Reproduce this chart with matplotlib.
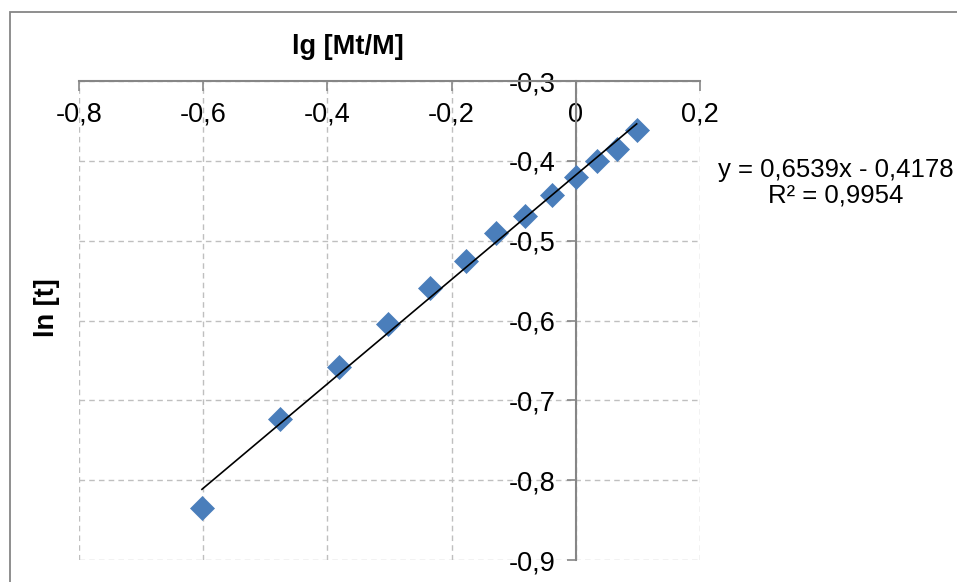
import numpy as np
import matplotlib
matplotlib.use("Agg")
import matplotlib.pyplot as plt
from matplotlib.patches import Rectangle

# Data
lg_mt_m = [-0.602, -0.477, -0.382, -0.302, -0.235, -0.177, -0.128, -0.082, -0.039, 0.0, 0.034, 0.066, 0.098]
ln_t = [-0.835, -0.723, -0.658, -0.604, -0.5595, -0.525, -0.4904, -0.4687, -0.4429, -0.4208, -0.400, -0.3854, -0.3613]

slope = 0.6539
intercept = -0.4178
r2 = 0.9954

x_ticks = [-0.8, -0.6, -0.4, -0.2, 0.0, 0.2]
x_tick_labels = ["-0,8", "-0,6", "-0,4", "-0,2", "0", "0,2"]
y_ticks = [-0.9, -0.8, -0.7, -0.6, -0.5, -0.4, -0.3]
y_tick_labels = ["-0,9", "-0,8", "-0,7", "-0,6", "-0,5", "-0,4", "-0,3"]

x_title = "lg [Mt/M]"
y_title = "ln [t]"

plt.rcParams['font.family'] = ['Liberation Sans', 'DejaVu Sans']

W, H = 957, 582
fig = plt.figure(figsize=(W / 100, H / 100), dpi=100)
fig.patch.set_facecolor('white')

# outer chart border (extends past right/bottom edges)
border = Rectangle((10 / W, -0.2), 1.2, 1.2 - 12 / H, transform=fig.transFigure,
                   fill=False, edgecolor='#868686', linewidth=1.3, clip_on=False)
fig.patches.append(border)

ax = fig.add_axes([79 / W, 1 - 560 / H, 621 / W, 479 / H])
ax.set_xlim(-0.8, 0.2)
ax.set_ylim(-0.9, -0.3)

axis_color = '#868686'
grid_color = '#BFBFBF'
fs = 19.5

for s in ['top', 'right']:
    ax.spines[s].set_visible(False)
ax.spines['bottom'].set_position(('data', -0.3))
ax.spines['left'].set_position(('data', 0.0))
for s in ['bottom', 'left']:
    ax.spines[s].set_color(axis_color)
    ax.spines[s].set_linewidth(1.5)
    ax.spines[s].set_zorder(1)

ax.set_xticks(x_ticks)
ax.set_xticklabels(x_tick_labels)
ax.set_yticks(y_ticks)
ax.set_yticklabels(y_tick_labels)
ax.tick_params(axis='x', direction='out', length=7, width=1.2, color=axis_color,
               labelsize=fs, pad=8)
ax.tick_params(axis='y', direction='out', length=6.5, width=1.2, color=axis_color,
               labelsize=fs, pad=8)

ax.grid(True, color=grid_color, linestyle=(0, (4, 3)), linewidth=1.0)
ax.set_axisbelow(True)

ax.plot(lg_mt_m, ln_t, linestyle='none', marker='D', markersize=12,
        color='#4A7EBB', markeredgecolor='#4A7EBB', markeredgewidth=0.5, zorder=3,
        clip_on=False)

xf = np.array([min(lg_mt_m), max(lg_mt_m)])
ax.plot(xf, slope * xf + intercept, color='black', linewidth=1.2, zorder=4)

ax.set_xlabel(x_title, fontsize=fs, fontweight='bold')
ax.xaxis.set_label_position('top')
ax.xaxis.set_label_coords((348 - 79) / 621, (560 - 47) / 479)
ax.xaxis.label.set_va('center')

ax.set_ylabel(y_title, fontsize=fs, fontweight='bold')
ax.yaxis.set_label_coords((47 - 79) / 621, (560 - 308) / 479)
ax.yaxis.label.set_va('center')

eq = "y = {:.4f}x - {:.4f}\nR² = {:.4f}".format(slope, abs(intercept), r2).replace('.', ',')
fig.text(836 / W, 1 - 182.5 / H, eq, ha='center', va='center', multialignment='center',
         fontsize=18.5, linespacing=1.1)

fig.savefig('out.png', dpi=100)
